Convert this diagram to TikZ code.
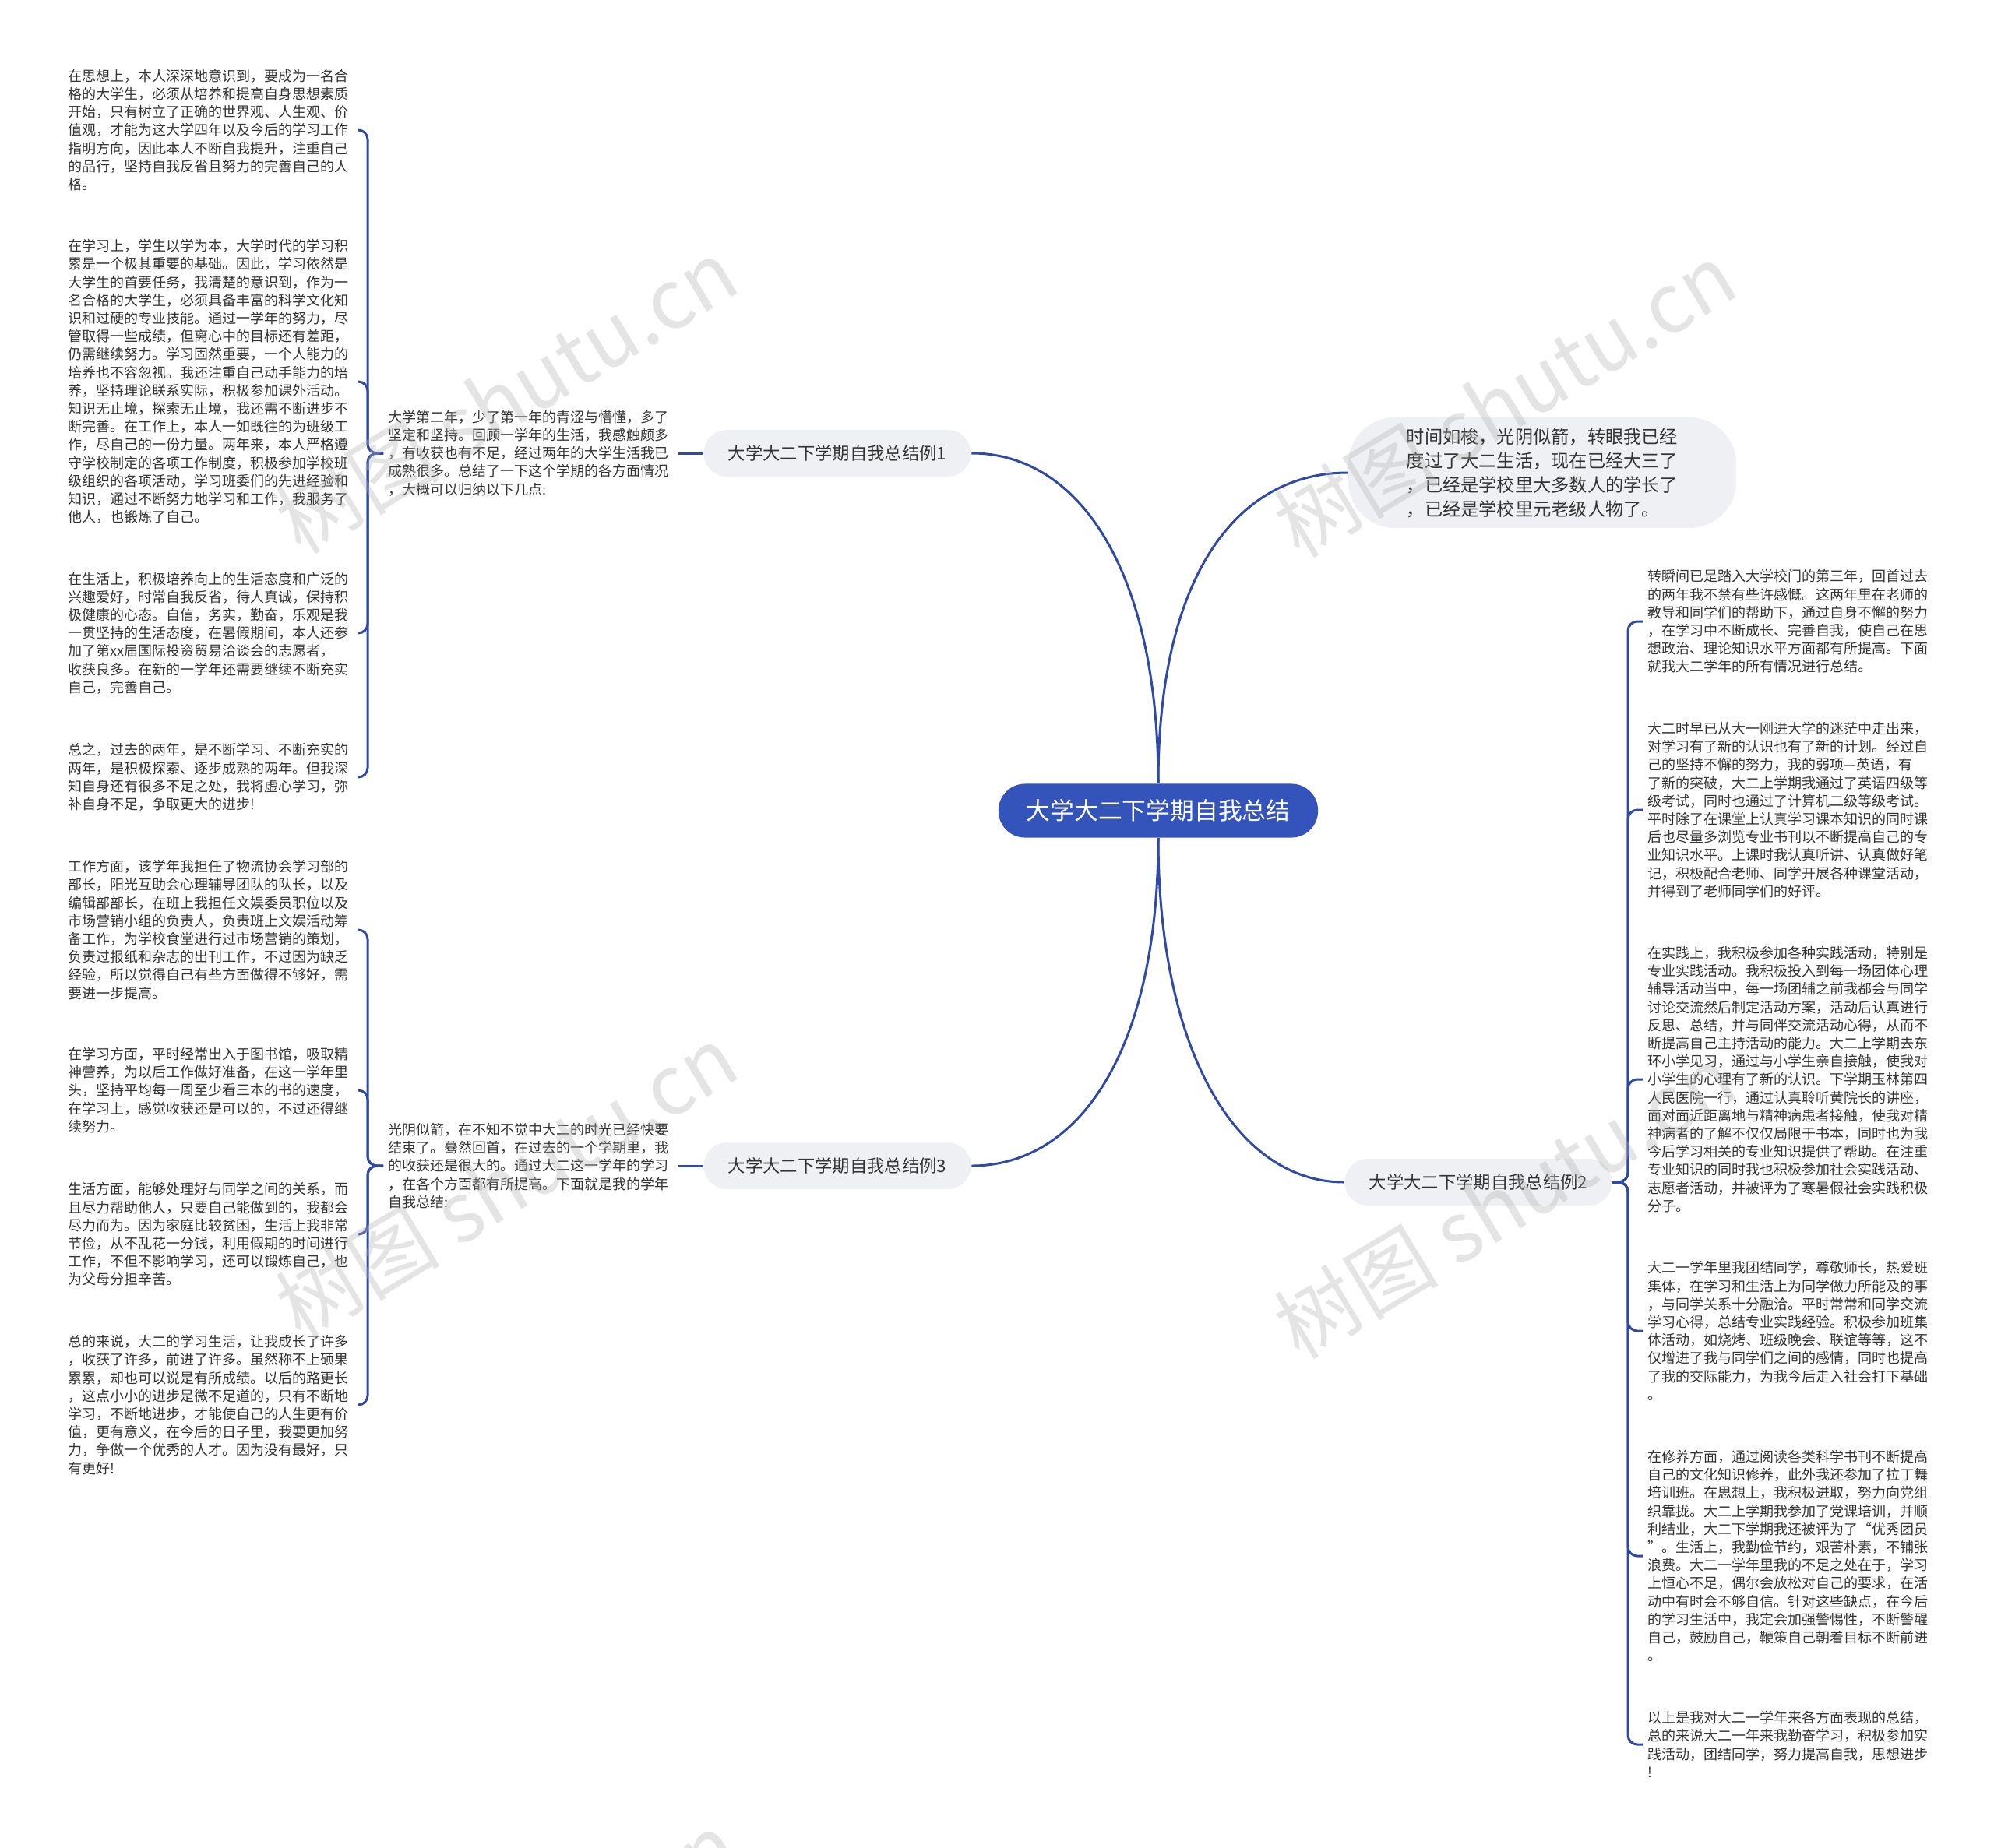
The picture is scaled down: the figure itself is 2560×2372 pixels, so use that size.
\documentclass[tikz,border=0pt]{standalone}
\usepackage{fontspec}
\setmainfont{Noto Sans CJK SC}
\definecolor{mapblue}{RGB}{52,84,188}
\definecolor{linkblue}{RGB}{47,74,165}
\definecolor{topicgray}{RGB}{238,240,243}
\definecolor{leafgray}{RGB}{51,51,51}

\begin{document}
\begin{tikzpicture}[x=0.01cm, y=-0.01cm,
  link/.style={draw=linkblue, line width=0.85pt, rounded corners=0.12cm},
  rootbox/.style={fill=mapblue, text=white, rounded corners=0.34cm, minimum width=4.1cm, minimum height=0.69cm, font=\fontsize{8.76}{10}\selectfont},
  topicbox/.style={fill=topicgray, text=leafgray, rounded corners=0.3cm, minimum width=3.43cm, minimum height=0.6cm, font=\fontsize{6.35}{8}\selectfont},
  leaf/.style={text=leafgray, align=left, text width=3.65cm, inner xsep=0.06cm, inner ysep=0pt, anchor=west, font=\fontsize{5.12}{6.6}\selectfont},
  wmark/.style={text=gray!60, opacity=0.35, rotate=31, font=\fontsize{30}{30}\selectfont}]

\useasboundingbox (0,0) rectangle (2560,2372);

% Root
\node[rootbox] (root) at (1487,1041) {大学大二下学期自我总结};

% Level 1
\node[topicbox] (b1) at (1075,582) {大学大二下学期自我总结例1};
\node[topicbox] (b3) at (1075,1497) {大学大二下学期自我总结例3};
\node[topicbox] (b2) at (1898,1518) {大学大二下学期自我总结例2};
\node[topicbox, minimum width=4.98cm, minimum height=1.42cm, rounded corners=0.6cm, align=left, font=\fontsize{6.6}{8.8}\selectfont] (tip) at (1980,607) {时间如梭，光阴似箭，转眼我已经\\度过了大二生活，现在已经大三了\\，已经是学校里大多数人的学长了\\，已经是学校里元老级人物了。};

\draw[link] (b1.east) .. controls +(1.4cm,0) and +(0,2.7cm) .. (root.north);
\draw[link] (root.north) .. controls +(0,2.7cm) and +(-1.4cm,0) .. (tip.west);
\draw[link] (b3.east) .. controls +(1.4cm,0) and +(0,-2.7cm) .. (root.south);
\draw[link] (root.south) .. controls +(0,-2.7cm) and +(-1.4cm,0) .. (b2.west);

% Example 1
\node[leaf] (intro1) at (492,582) {大学第二年，少了第一年的青涩与懵懂，多了\\坚定和坚持。回顾一学年的生活，我感触颇多\\，有收获也有不足，经过两年的大学生活我已\\成熟很多。总结了一下这个学期的各方面情况\\，大概可以归纳以下几点:};
\draw[link] (b1.west) -- (intro1.east);

\node[leaf] (p1) at (81,167) {在思想上，本人深深地意识到，要成为一名合\\格的大学生，必须从培养和提高自身思想素质\\开始，只有树立了正确的世界观、人生观、价\\值观，才能为这大学四年以及今后的学习工作\\指明方向，因此本人不断自我提升，注重自己\\的品行，坚持自我反省且努力的完善自己的人\\格。};
\node[leaf] (p2) at (81,490) {在学习上，学生以学为本，大学时代的学习积\\累是一个极其重要的基础。因此，学习依然是\\大学生的首要任务，我清楚的意识到，作为一\\名合格的大学生，必须具备丰富的科学文化知\\识和过硬的专业技能。通过一学年的努力，尽\\管取得一些成绩，但离心中的目标还有差距，\\仍需继续努力。学习固然重要，一个人能力的\\培养也不容忽视。我还注重自己动手能力的培\\养，坚持理论联系实际，积极参加课外活动。\\知识无止境，探索无止境，我还需不断进步不\\断完善。在工作上，本人一如既往的为班级工\\作，尽自己的一份力量。两年来，本人严格遵\\守学校制定的各项工作制度，积极参加学校班\\级组织的各项活动，学习班委们的先进经验和\\知识，通过不断努力地学习和工作，我服务了\\他人，也锻炼了自己。};
\node[leaf] (p3) at (81,813) {在生活上，积极培养向上的生活态度和广泛的\\兴趣爱好，时常自我反省，待人真诚，保持积\\极健康的心态。自信，务实，勤奋，乐观是我\\一贯坚持的生活态度，在暑假期间，本人还参\\加了第xx届国际投资贸易洽谈会的志愿者，\\收获良多。在新的一学年还需要继续不断充实\\自己，完善自己。};
\node[leaf] (p4) at (81,998) {总之，过去的两年，是不断学习、不断充实的\\两年，是积极探索、逐步成熟的两年。但我深\\知自身还有很多不足之处，我将虚心学习，弥\\补自身不足，争取更大的进步!};

\coordinate (hub1) at (472,582);
\foreach \p in {p1,p2,p3,p4}
  \draw[link] (intro1.west) -- (hub1) |- (\p.east);

% Example 3
\node[leaf] (intro3) at (492,1497) {光阴似箭，在不知不觉中大二的时光已经快要\\结束了。蓦然回首，在过去的一个学期里，我\\的收获还是很大的。通过大二这一学年的学习\\，在各个方面都有所提高。下面就是我的学年\\自我总结:};
\draw[link] (b3.west) -- (intro3.east);

\node[leaf] (p5) at (81,1194) {工作方面，该学年我担任了物流协会学习部的\\部长，阳光互助会心理辅导团队的队长，以及\\编辑部部长，在班上我担任文娱委员职位以及\\市场营销小组的负责人，负责班上文娱活动筹\\备工作，为学校食堂进行过市场营销的策划，\\负责过报纸和杂志的出刊工作，不过因为缺乏\\经验，所以觉得自己有些方面做得不够好，需\\要进一步提高。};
\node[leaf] (p6) at (81,1400) {在学习方面，平时经常出入于图书馆，吸取精\\神营养，为以后工作做好准备，在这一学年里\\头，坚持平均每一周至少看三本的书的速度，\\在学习上，感觉收获还是可以的，不过还得继\\续努力。};
\node[leaf] (p7) at (81,1585) {生活方面，能够处理好与同学之间的关系，而\\且尽力帮助他人，只要自己能做到的，我都会\\尽力而为。因为家庭比较贫困，生活上我非常\\节俭，从不乱花一分钱，利用假期的时间进行\\工作，不但不影响学习，还可以锻炼自己，也\\为父母分担辛苦。};
\node[leaf] (p8) at (81,1804) {总的来说，大二的学习生活，让我成长了许多\\，收获了许多，前进了许多。虽然称不上硕果\\累累，却也可以说是有所成绩。以后的路更长\\，这点小小的进步是微不足道的，只有不断地\\学习，不断地进步，才能使自己的人生更有价\\值，更有意义，在今后的日子里，我要更加努\\力，争做一个优秀的人才。因为没有最好，只\\有更好!};

\coordinate (hub3) at (472,1497);
\foreach \p in {p5,p6,p7,p8}
  \draw[link] (intro3.west) -- (hub3) |- (\p.east);

% Example 2
\node[leaf] (r1) at (2109,798) {转瞬间已是踏入大学校门的第三年，回首过去\\的两年我不禁有些许感慨。这两年里在老师的\\教导和同学们的帮助下，通过自身不懈的努力\\，在学习中不断成长、完善自我，使自己在思\\想政治、理论知识水平方面都有所提高。下面\\就我大二学年的所有情况进行总结。};
\node[leaf] (r2) at (2109,1040) {大二时早已从大一刚进大学的迷茫中走出来，\\对学习有了新的认识也有了新的计划。经过自\\己的坚持不懈的努力，我的弱项—英语，有\\了新的突破，大二上学期我通过了英语四级等\\级考试，同时也通过了计算机二级等级考试。\\平时除了在课堂上认真学习课本知识的同时课\\后也尽量多浏览专业书刊以不断提高自己的专\\业知识水平。上课时我认真听讲、认真做好笔\\记，积极配合老师、同学开展各种课堂活动，\\并得到了老师同学们的好评。};
\node[leaf] (r3) at (2109,1386) {在实践上，我积极参加各种实践活动，特别是\\专业实践活动。我积极投入到每一场团体心理\\辅导活动当中，每一场团辅之前我都会与同学\\讨论交流然后制定活动方案，活动后认真进行\\反思、总结，并与同伴交流活动心得，从而不\\断提高自己主持活动的能力。大二上学期去东\\环小学见习，通过与小学生亲自接触，使我对\\小学生的心理有了新的认识。下学期玉林第四\\人民医院一行，通过认真聆听黄院长的讲座，\\面对面近距离地与精神病患者接触，使我对精\\神病者的了解不仅仅局限于书本，同时也为我\\今后学习相关的专业知识提供了帮助。在注重\\专业知识的同时我也积极参加社会实践活动、\\志愿者活动，并被评为了寒暑假社会实践积极\\分子。};
\node[leaf] (r4) at (2109,1709) {大二一学年里我团结同学，尊敬师长，热爱班\\集体，在学习和生活上为同学做力所能及的事\\，与同学关系十分融洽。平时常常和同学交流\\学习心得，总结专业实践经验。积极参加班集\\体活动，如烧烤、班级晚会、联谊等等，这不\\仅增进了我与同学们之间的感情，同时也提高\\了我的交际能力，为我今后走入社会打下基础\\。};
\node[leaf] (r5) at (2109,1998) {在修养方面，通过阅读各类科学书刊不断提高\\自己的文化知识修养，此外我还参加了拉丁舞\\培训班。在思想上，我积极进取，努力向党组\\织靠拢。大二上学期我参加了党课培训，并顺\\利结业，大二下学期我还被评为了“优秀团员\\”。生活上，我勤俭节约，艰苦朴素，不铺张\\浪费。大二一学年里我的不足之处在于，学习\\上恒心不足，偶尔会放松对自己的要求，在活\\动中有时会不够自信。针对这些缺点，在今后\\的学习生活中，我定会加强警惕性，不断警醒\\自己，鼓励自己，鞭策自己朝着目标不断前进\\。};
\node[leaf] (r6) at (2109,2240) {以上是我对大二一学年来各方面表现的总结，\\总的来说大二一年来我勤奋学习，积极参加实\\践活动，团结同学，努力提高自我，思想进步\\!};

\coordinate (hub2) at (2090,1518);
\foreach \r in {r1,r2,r3,r4,r5,r6}
  \draw[link] (b2.east) -- (hub2) |- (\r.west);

% Watermarks
\begin{scope}
\clip (0,0) rectangle (2560,2372);
\node[wmark] (wm1) at (650,509) {树图 shutu.cn};
\node[wmark] (wm2) at (1932,514) {树图 shutu.cn};
\node[wmark] (wm3) at (650,1518) {树图 shutu.cn};
\node[wmark] (wm4) at (1932,1543) {树图 shutu.cn};
\node[wmark] (wm5) at (650,2528) {树图 shutu.cn};
\node[wmark] (wm6) at (1932,2553) {树图 shutu.cn};
\end{scope}

\end{tikzpicture}
\end{document}
